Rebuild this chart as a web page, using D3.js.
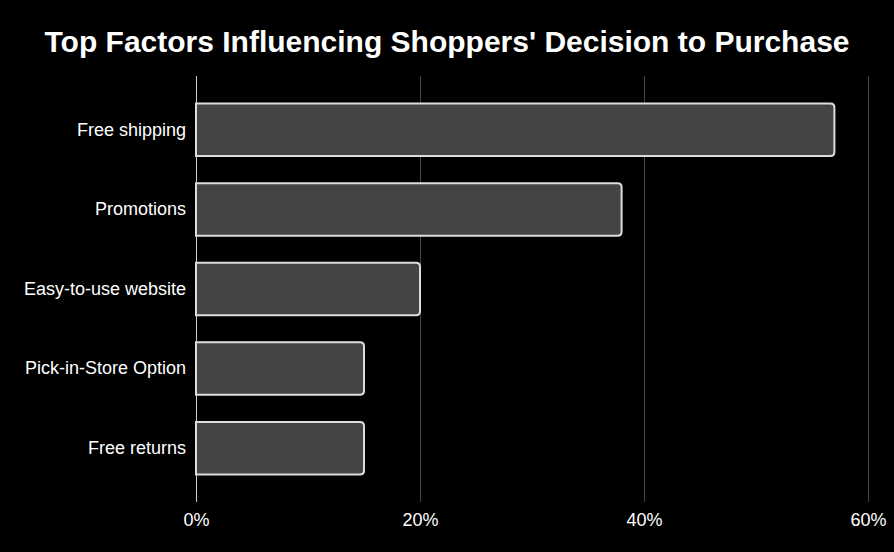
<!DOCTYPE html>
<html><head><meta charset="utf-8">
<script src="https://cdn.jsdelivr.net/npm/d3@7"></script>
<style>body{margin:0;background:#000;}svg{display:block;}</style>
</head><body>
<svg id="c" width="894" height="552"></svg>
<script>
const categories = ["Free shipping","Promotions","Easy-to-use website","Pick-in-Store Option","Free returns"];
const values = [57, 38, 20, 15, 15];
const ticks = [0, 20, 40, 60];
const title = "Top Factors Influencing Shoppers' Decision to Purchase";

const svg = d3.select("#c");
svg.append("rect").attr("width",894).attr("height",552).attr("fill","#000");
const x = d3.scaleLinear().domain([0,60]).range([196,868]);
const y = d3.scaleBand().domain(categories).range([76,502]).paddingInner(0.34).paddingOuter(0.346);

svg.append("text").attr("x",447).attr("y",52).attr("text-anchor","middle")
  .attr("fill","#fff").attr("font-family","Liberation Sans, Arial, sans-serif")
  .attr("font-weight","bold").attr("font-size",30).text(title);

// gridlines
svg.append("g").selectAll("line").data(ticks).join("line")
  .attr("x1",d=>x(d)+0.5).attr("x2",d=>x(d)+0.5).attr("y1",76).attr("y2",502)
  .attr("stroke",d=>d===0?"#ccc":"#444").attr("stroke-width",1);

// x axis labels
const xa = svg.append("g").attr("transform","translate(0,502)")
  .call(d3.axisBottom(x).tickValues(ticks).tickFormat(d=>d+"%").tickSize(0).tickPadding(11));
xa.select(".domain").remove();
xa.selectAll("text").attr("fill","#fff").attr("font-size",18).attr("font-family","Liberation Sans, Arial, sans-serif");

// y axis labels
const ya = svg.append("g").attr("transform","translate(196,0)")
  .call(d3.axisLeft(y).tickSize(0).tickPadding(10));
ya.select(".domain").remove();
ya.selectAll("text").attr("fill","#fff").attr("font-size",18).attr("font-family","Liberation Sans, Arial, sans-serif");

function barPath(x0,x1,y0,h,r){
  return `M${x0},${y0}H${x1-r}Q${x1},${y0} ${x1},${y0+r}V${y0+h-r}Q${x1},${y0+h} ${x1-r},${y0+h}H${x0}Z`;
}
svg.append("g").selectAll("path").data(categories).join("path")
  .attr("d",(c,i)=>barPath(x(0),x(values[i]),y(c),y.bandwidth(),4))
  .attr("fill","#444").attr("stroke","#ddd").attr("stroke-width",2);
</script>
</body></html>
